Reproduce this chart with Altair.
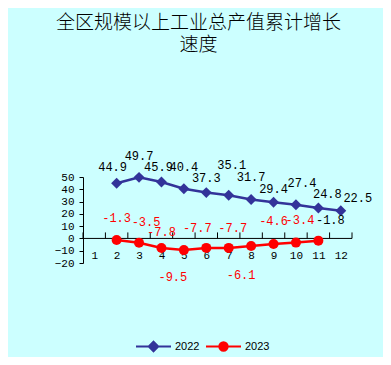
import altair as alt
import pandas as pd

# ---- data ----
months = list(range(1, 13))
months_2022 = [2, 3, 4, 5, 6, 7, 8, 9, 10, 11, 12]
values_2022 = [44.9, 49.7, 45.9, 40.4, 37.3, 35.1, 31.7, 29.4, 27.4, 24.8, 22.5]
months_2023 = [2, 3, 4, 5, 6, 7, 8, 9, 10, 11]
values_2023 = [-1.3, -3.5, -7.8, -9.5, -7.7, -7.7, -6.1, -4.6, -3.4, -1.8]
series_names = ["2022", "2023"]
y_ticks = [-20, -10, 0, 10, 20, 30, 40, 50]
title_lines = ["全区规模以上工业总产值累计增长", "速度"]

df = pd.DataFrame({
    "month": months_2022 + months_2023,
    "value": values_2022 + values_2023,
    "series": [series_names[0]] * len(months_2022) + [series_names[1]] * len(months_2023),
})
df["label"] = df["value"].map(lambda v: f"{v:.1f}")

bounds = pd.DataFrame({"b": [m - 0.5 for m in months] + [months[-1] + 0.5]})

# ---- styles ----
BLUE = "#333399"
RED = "#FF0000"
BG = "#CCFFFF"
MONO = "Liberation Mono"
PLOT_W, PLOT_H = 269, 86
PX_PER_MONTH = PLOT_W / len(months)
PX_PER_UNIT = PLOT_H / (y_ticks[-1] - y_ticks[0])

# label nudges in px (dx, dy) relative to the point, as placed in the original chart
label_nudge = {
    ("2022", 2): (-4, -16), ("2022", 3): (0, -21), ("2022", 4): (-3, -15),
    ("2022", 5): (0, -22), ("2022", 6): (0, -15), ("2022", 7): (3, -30),
    ("2022", 8): (0, -22), ("2022", 9): (0, -13), ("2022", 10): (6, -22),
    ("2022", 11): (9, -14), ("2022", 12): (17, -13),
    ("2023", 2): (0, -22), ("2023", 3): (7, -21), ("2023", 4): (0, -16),
    ("2023", 5): (-11, 27), ("2023", 6): (-9, -20), ("2023", 7): (4, -20),
    ("2023", 8): (-10, 29), ("2023", 9): (0, -23), ("2023", 10): (4, -23),
    ("2023", 11): (12, -21),
}


def nudge_expr(idx):
    expr = "0"
    for (s, m), d in label_nudge.items():
        expr = f"(datum.series=='{s}' && datum.month=={m}) ? {d[idx]} : ({expr})"
    return expr


lx_expr = f"datum.month + ({nudge_expr(0)}) / {PX_PER_MONTH}"
ly_expr = f"datum.value - ({nudge_expr(1)}) / {PX_PER_UNIT}"

x_scale = alt.Scale(domain=[months[0] - 0.5, months[-1] + 0.5], nice=False, zero=False)
y_scale = alt.Scale(domain=[y_ticks[0], y_ticks[-1]], nice=False, zero=False)
color_scale = alt.Scale(domain=series_names, range=[BLUE, RED])

x_axis = alt.Axis(values=months, title=None, grid=False, ticks=False,
                  domain=False, labelFont=MONO, labelFontSize=11,
                  labelColor="black", labelPadding=2, offset=-16,
                  format="d", labelOverlap=False)
y_axis = alt.Axis(values=y_ticks, title=None, grid=False, tickSize=4,
                  tickColor="black", domainColor="black",
                  labelFont=MONO, labelFontSize=11, labelColor="black",
                  labelPadding=5, labelOverlap=False, labelBound=False)

base = alt.Chart(df)

lines = base.mark_line(strokeWidth=2.5).encode(
    x=alt.X("month:Q", scale=x_scale, axis=x_axis),
    y=alt.Y("value:Q", scale=y_scale, axis=y_axis),
    color=alt.Color("series:N", scale=color_scale, legend=None),
    detail="series:N",
)

points = base.mark_point(filled=True, opacity=1).encode(
    x=alt.X("month:Q", scale=x_scale, axis=x_axis),
    y=alt.Y("value:Q", scale=y_scale, axis=y_axis),
    color=alt.Color("series:N", scale=color_scale, legend=None),
    shape=alt.Shape("series:N", scale=alt.Scale(domain=series_names, range=["diamond", "circle"]), legend=None),
    size=alt.Size("series:N", scale=alt.Scale(domain=series_names, range=[120, 100]), legend=None),
)

# legend-only layers (clipped away from the plot)
diamond_leg = "M-1,0H1M-0.27,0L0,-0.27L0.27,0L0,0.27Z"
circle_leg = "M-1,0H1M0.24,0A0.24,0.24,0,1,1,-0.24,0A0.24,0.24,0,1,1,0.24,0Z"
leg_common = dict(title=None, orient="none", direction="horizontal", legendY=151,
                  padding=0, symbolSize=1225, symbolStrokeWidth=2, symbolOpacity=1,
                  labelFont="Liberation Sans", labelFontSize=11,
                  labelColor="black", labelOffset=3)

legend_2022 = base.transform_filter(alt.datum.series == series_names[0]).mark_point(
    filled=True, clip=True, stroke=BLUE, strokeWidth=2, opacity=1).encode(
    x=alt.value(-500), y=alt.value(-500),
    fill=alt.Fill("series:N", scale=alt.Scale(domain=[series_names[0]], range=[BLUE]),
                  legend=alt.Legend(legendX=52, symbolType=diamond_leg,
                                    symbolStrokeColor=BLUE, **leg_common)),
)
legend_2023 = base.transform_filter(alt.datum.series == series_names[1]).mark_point(
    filled=True, clip=True, color=RED, strokeWidth=2, opacity=1).encode(
    x=alt.value(-500), y=alt.value(-500),
    stroke=alt.Stroke("series:N", scale=alt.Scale(domain=[series_names[1]], range=[RED]),
                      legend=alt.Legend(legendX=122, symbolType=circle_leg,
                                        symbolFillColor=RED, **leg_common)),
)

zero_line = alt.Chart(pd.DataFrame({"z": [0]})).mark_rule(color="black", strokeWidth=1).encode(
    y=alt.Y("z:Q", scale=y_scale, axis=y_axis))

ticks = alt.Chart(bounds).mark_rule(color="black", strokeWidth=1, y2Offset=-6).encode(
    x=alt.X("b:Q", scale=x_scale, axis=x_axis),
    y=alt.datum(0, scale=y_scale, axis=y_axis),
    y2=alt.datum(0),
)

lab = base.transform_calculate(lx=lx_expr, ly=ly_expr)
text_x = alt.X("lx:Q", scale=x_scale, axis=x_axis)
text_y = alt.Y("ly:Q", scale=y_scale, axis=y_axis)

labels_2022 = lab.transform_filter(alt.datum.series == series_names[0]).mark_text(
    font=MONO, fontSize=12, color="black").encode(
    x=text_x, y=text_y, text="label:N")

labels_2023 = lab.transform_filter(alt.datum.series == series_names[1]).mark_text(
    font=MONO, fontSize=12).encode(
    x=text_x, y=text_y, text="label:N",
    color=alt.condition(alt.datum.month == 11, alt.value("black"), alt.value(RED)),
)

chart = alt.layer(
    lines, zero_line, ticks, points, labels_2022, labels_2023,
    legend_2022, legend_2023
).resolve_scale(shape="independent", size="independent").properties(
    width=PLOT_W, height=PLOT_H,
    autosize=alt.AutoSizeParams(type="none"),
    padding={"left": 75, "top": 169, "right": 31, "bottom": 94},
    title=alt.TitleParams(text=title_lines, font="Noto Sans CJK SC", fontSize=19,
                          fontWeight=300, color="black", anchor="middle",
                          dx=-19, offset=95, lineHeight=22),
).configure(background=BG).configure_view(stroke=None).configure_axis(labelOverlap=False)

chart.save("out.html", embed_options={"renderer": "svg", "actions": False})
